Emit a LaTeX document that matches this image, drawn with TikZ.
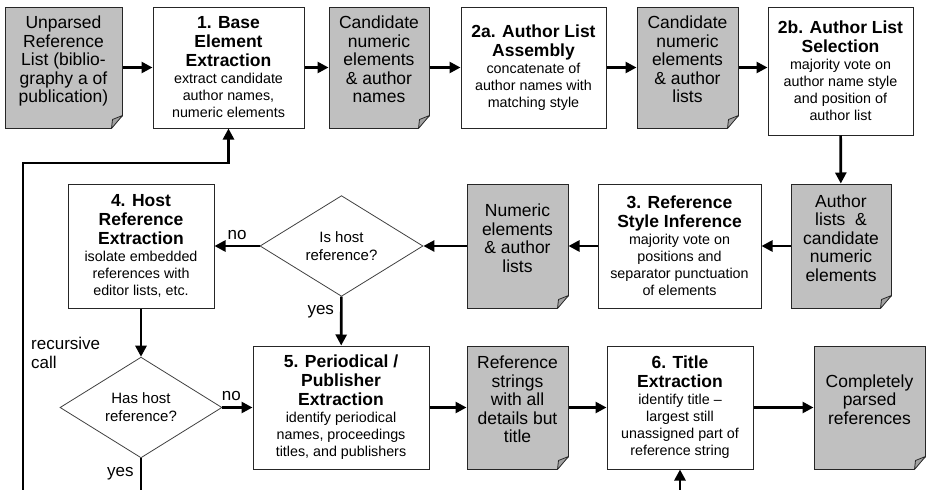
\documentclass[tikz,border=0pt]{standalone}
\usepackage{fontspec}
\setmainfont{Liberation Sans}
\usetikzlibrary{positioning, arrows.meta, shapes.geometric}

\definecolor{docgray}{HTML}{C0C0C0}
\definecolor{foldgray}{HTML}{A2A2A2}
\newcommand{\hd}[1]{{\fontsize{17.5}{20}\selectfont\bfseries #1}}

\begin{document}
\begin{tikzpicture}[x=1pt, y=-1pt, >={Triangle[length=11pt, width=11pt]},
  stepbox/.style={draw=black!85, line width=1pt, fill=white, align=center,
    inner sep=0pt, font=\fontsize{14.3}{17}\selectfont},
  doc/.style={draw=black!85, line width=1pt, fill=docgray, align=center,
    inner sep=0pt, text depth=16pt, font=\fontsize{17.5}{18.5}\selectfont},
  test/.style={diamond, draw=black!75, line width=0.8pt, inner sep=0pt, align=center,
    minimum width=163pt, minimum height=92pt, font=\fontsize{15}{18}\selectfont},
  flow/.style={->, line width=2.6pt},
  lbl/.style={font=\fontsize{17}{19}\selectfont, inner sep=0pt}]
  \useasboundingbox (0,0) rectangle (927,490);

  % top row
  \node[doc, minimum width=117pt, minimum height=121pt] (unparsed) at (63.5,67.5)
    {Unparsed\\Reference\\List (biblio-\\graphy a of\\publication)};
  \node[stepbox, minimum width=151pt, minimum height=121pt] (base) at (228.5,67.5)
    {\hd{1. Base}\\[2pt]\hd{Element}\\[2pt]\hd{Extraction}\\extract candidate\\author names,\\numeric elements};
  \node[doc, minimum width=100pt, minimum height=121pt] (candnames) at (379,67.5)
    {Candidate\\numeric\\elements\\\& author\\names};
  \node[stepbox, minimum width=145pt, minimum height=121pt] (assembly) at (533.5,67.5)
    {\hd{2a. Author List}\\[2pt]\hd{Assembly}\\concatenate of\\author names with\\matching style};
  \node[doc, minimum width=101pt, minimum height=121pt] (candlists) at (687.5,67.5)
    {Candidate\\numeric\\elements\\\& author\\lists};
  \node[stepbox, minimum width=145pt, minimum height=128pt] (selection) at (840.5,71)
    {\hd{2b. Author List}\\[2pt]\hd{Selection}\\majority vote on\\author name style\\and position of\\author list};

  % middle row
  \node[doc, minimum width=100pt, minimum height=124pt] (authlists) at (841,246)
    {Author\\lists \ \&\\candidate\\numeric\\elements};
  \node[stepbox, minimum width=163pt, minimum height=124pt] (style) at (679.5,246)
    {\hd{3. Reference}\\[2pt]\hd{Style Inference}\\majority vote on\\positions and\\separator punctuation\\of elements};
  \node[doc, minimum width=101pt, minimum height=124pt] (numlists) at (517.5,246)
    {Numeric\\elements\\\& author\\lists};
  \node[test] (ishost) at (341.5,246) {Is host\\reference?};
  \node[stepbox, minimum width=146pt, minimum height=124pt] (host) at (141,246)
    {\hd{4. Host}\\[2pt]\hd{Reference}\\[2pt]\hd{Extraction}\\isolate embedded\\references with\\editor lists, etc.};

  % bottom row
  \node[test, minimum width=162pt, minimum height=91pt] (hashost) at (141,407.5) {Has host\\reference?};
  \node[stepbox, minimum width=176pt, minimum height=123pt] (periodical) at (341,407.5)
    {\hd{5. Periodical /}\\[2pt]\hd{Publisher}\\[2pt]\hd{Extraction}\\identify periodical\\names, proceedings\\titles, and publishers};
  \node[doc, minimum width=101pt, minimum height=123pt] (refstrings) at (517.5,407.5)
    {Reference\\strings\\with all\\details but\\title};
  \node[stepbox, minimum width=146pt, minimum height=123pt] (title) at (680,407.5)
    {\hd{6. Title}\\[2pt]\hd{Extraction}\\identify title –\\largest still\\unassigned part of\\reference string};
  \node[doc, minimum width=111pt, minimum height=123pt] (parsed) at (869.5,407.5)
    {Completely\\parsed\\references};

  % folded corners of the documents
  \foreach \d in {unparsed, candnames, candlists, authlists, numlists, refstrings, parsed}{
    \fill[white] (\d.south east) ++(1,-13) -- ++(0,14) -- ++(-13,0) -- cycle;
    \filldraw[fill=foldgray, draw=black!85, line width=0.8pt, line join=round]
      (\d.south east) ++(0,-13) -- ++(-10,4) -- ++(-1,9) -- cycle;
  }

  % flow
  \foreach \a/\b in {unparsed/base, base/candnames, candnames/assembly, assembly/candlists,
      selection/authlists, authlists/style, style/numlists, numlists/ishost,
      host/hashost, periodical/refstrings, refstrings/title, title/parsed}{
    \draw[flow] (\a) -- (\b);
  }
  \draw[flow] (candlists.east) -- (candlists.east -| selection.west);
  \draw[flow] (ishost) -- node[lbl, above=5pt] {no} (host);
  \draw[flow] (ishost) -- node[lbl, left=6pt, pos=0.3] {yes} (periodical);
  \draw[flow] (hashost) -- node[lbl, above=6pt, pos=0.3] {no} (periodical);

  % branches leaving the page
  \coordinate (yesout) at (141,490);
  \coordinate (recur) at (23,490);
  \coordinate (titlein) at (680,490);
  \draw[line width=2.6pt] (hashost.south) -- node[lbl, left=6pt] {yes} (yesout);
  \draw[flow] (recur) -- ++(0,-327) -| (base.south);
  \node[lbl, anchor=north west, align=left] (recurlbl) at (31,337) {recursive\\call};
  \draw[flow] (titlein) -- (title.south);
\end{tikzpicture}
\end{document}
